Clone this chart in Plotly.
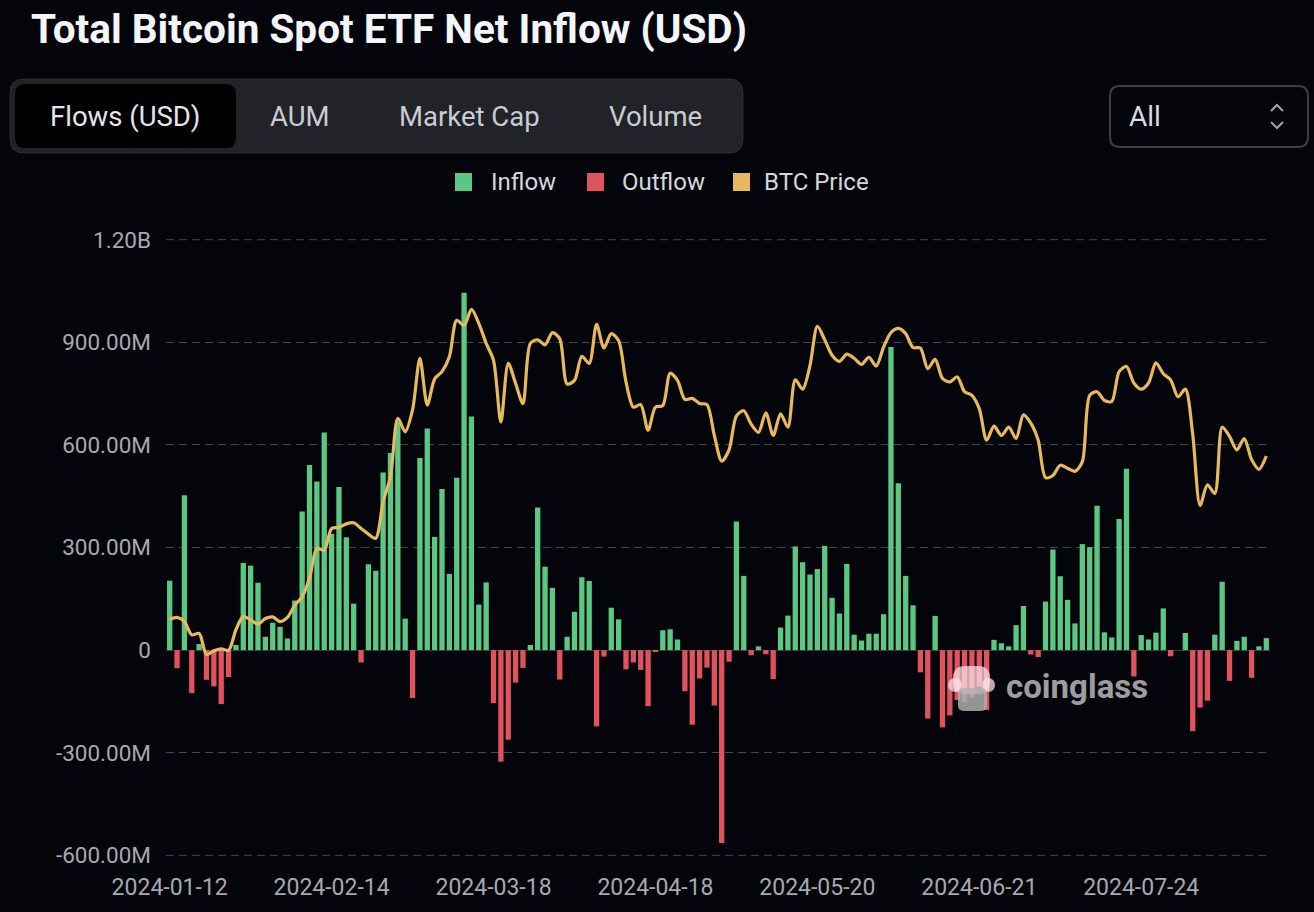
import pandas as pd
import plotly.graph_objects as go

# trading days shown on the category axis
HOLIDAYS = ["2024-01-15", "2024-02-19", "2024-03-29", "2024-05-27", "2024-06-19", "2024-07-04"]
dates = [d.strftime("%Y-%m-%d") for d in
         pd.bdate_range("2024-01-12", "2024-08-16", freq="C", holidays=HOLIDAYS)]

# daily net flow, millions of USD
net_flow = [
    203, -53, 453, -126, 18, -87, -106, -158, -79, 15,
    255, 247, 197, 39, 80, 68, 34, 145, 405, 541,
    493, 636, 340, 477, 330, 136, -36, 251, 232, 519,
    576, 667, 92, -140, 562, 648, 331, 471, 223, 504,
    1045, 683, 133, 198, -155, -326, -262, -95, -52, 15,
    417, 244, 182, -86, 39, 112, 213, 202, -223, -19,
    124, 90, -56, -36, -58, -164, -4, 58, 61, 31,
    -120, -218, -83, -51, -162, -564, -34, 376, 217, -15,
    11, -12, -85, 66, 101, 303, 257, 221, 237, 305,
    153, 107, 252, 45, 28, 48, 48, 105, 886, 488,
    217, 131, -65, -200, 100, -226, -191, -146, -152, -140,
    -106, -175, 30, 20, 11, 73, 129, -13, -20, 142,
    294, 216, 147, 78, 310, 301, 422, 52, 37, 383,
    530, -77, 44, 31, 51, 122, -18, 0, 50, -237,
    -168, -148, 45, 200, -90, 27, 39, -81, 11, 35,
]

# BTC price, thousands of USD
btc_price = [
    43.0, 43.2, 42.8, 41.5, 41.65, 39.6, 39.95, 40.15, 40.0, 42.0,
    43.3, 42.95, 42.55, 43.1, 43.25, 42.8, 43.2, 44.4, 45.2, 47.0,
    49.9, 49.75, 51.85, 51.95, 52.3, 52.4, 51.85, 51.3, 50.9, 54.45,
    56.9, 62.55, 61.25, 63.4, 68.4, 63.85, 66.4, 67.1, 68.55, 72.1,
    71.6, 73.15, 71.8, 69.85, 68.2, 62.2, 67.9, 65.95, 64.0, 69.85,
    70.2, 69.7, 70.9, 70.3, 65.9, 66.25, 68.6, 67.9, 71.7, 69.4,
    70.8, 70.1, 66.1, 63.65, 63.9, 61.4, 63.65, 63.8, 66.95, 66.25,
    64.4, 64.5, 64.0, 63.9, 60.9, 58.4, 59.5, 62.8, 63.3, 62.0,
    61.2, 63.1, 60.9, 63.0, 61.7, 66.3, 65.4, 67.7, 71.5, 70.2,
    68.7, 68.1, 68.8, 68.4, 67.8, 68.5, 67.65, 69.5, 70.9, 71.3,
    70.8, 69.45, 69.4, 67.4, 68.3, 66.45, 66.1, 66.6, 65.15, 64.8,
    63.5, 60.45, 61.8, 60.9, 61.7, 60.6, 62.9, 62.1, 60.45, 56.8,
    57.0, 58.0, 57.7, 57.4, 58.35, 64.8, 65.15, 64.3, 64.2, 67.1,
    67.6, 66.0, 65.4, 66.0, 67.95, 66.9, 66.3, 64.65, 65.4, 61.0,
    54.1, 56.1, 55.25, 61.7, 60.8, 59.5, 60.6, 58.55, 57.6, 58.9,
]
assert len(dates) == len(net_flow) == len(btc_price) == 150

y_ticks = [-600, -300, 0, 300, 600, 900, 1200]
y_labels = ["-600.00M", "-300.00M", "0", "300.00M", "600.00M", "900.00M", "1.20B"]
x_ticks = dates[::22]
tabs = ["Flows (USD)", "AUM", "Market Cap", "Volume"]
legend_items = ["Inflow", "Outflow", "BTC Price"]

GREEN, RED, GOLD = "#5cc683", "#e1525f", "#e6b95c"
BG = "#04050a"
GRID = "#44474d"
W, H = 1314, 912
L, R, T, B = 166, 1270, 239, 856   # plot area in page pixels


def paper(x, y):
    return (x - L) / (R - L), (B - y) / (B - T)


def rounded_rect(x0, y0, x1, y1, r):
    """SVG path for a rounded rectangle, given in page pixels."""
    pts = [("M", x0 + r, y0), ("L", x1 - r, y0), ("Q", x1, y0, x1, y0 + r),
           ("L", x1, y1 - r), ("Q", x1, y1, x1 - r, y1), ("L", x0 + r, y1),
           ("Q", x0, y1, x0, y1 - r), ("L", x0, y0 + r), ("Q", x0, y0, x0 + r, y0)]
    out = []
    for p in pts:
        cmd, coords = p[0], p[1:]
        xy = []
        for i in range(0, len(coords), 2):
            px, py = paper(coords[i], coords[i + 1])
            xy.append(f"{px:.5f},{py:.5f}")
        out.append(cmd + " ".join(xy))
    return " ".join(out) + " Z"


def polyline(points):
    s = []
    for i, (x, y) in enumerate(points):
        px, py = paper(x, y)
        s.append(("M" if i == 0 else "L") + f"{px:.5f},{py:.5f}")
    return " ".join(s)


def box(kind, x0, y0, x1, y1, fill):
    a, b = paper(x0, y1)
    c, d = paper(x1, y0)
    return dict(type=kind, xref="paper", yref="paper", x0=a, y0=b, x1=c, y1=d,
                fillcolor=fill, line=dict(width=0), layer="above")


inflow = [v if v > 0 else None for v in net_flow]
outflow = [v if v < 0 else None for v in net_flow]

fig = go.Figure()
fig.add_trace(go.Bar(x=dates, y=inflow, marker_color=GREEN, marker_line_width=0,
                     name="Inflow"))
fig.add_trace(go.Bar(x=dates, y=outflow, marker_color=RED, marker_line_width=0,
                     name="Outflow"))
fig.add_trace(go.Scatter(x=dates, y=btc_price, yaxis="y2", mode="lines",
                         line=dict(color=GOLD, width=3.2, shape="spline", smoothing=0.8),
                         name="BTC Price"))

shapes = [
    dict(type="path", xref="paper", yref="paper", path=rounded_rect(10, 79, 743, 153, 14),
         fillcolor="#212328", line=dict(color="#2b2e34", width=1), layer="above"),
    dict(type="path", xref="paper", yref="paper", path=rounded_rect(15, 84, 236, 148, 10),
         fillcolor="#000000", line=dict(width=0), layer="above"),
    dict(type="path", xref="paper", yref="paper", path=rounded_rect(1110, 86, 1308, 147, 10),
         fillcolor=BG, line=dict(color="#3b3e45", width=2), layer="above"),
    dict(type="path", xref="paper", yref="paper",
         path=polyline([(1271, 111), (1277, 105), (1283, 111)]),
         line=dict(color="#a3a6ad", width=2), layer="above"),
    dict(type="path", xref="paper", yref="paper",
         path=polyline([(1271, 122), (1277, 128), (1283, 122)]),
         line=dict(color="#a3a6ad", width=2), layer="above"),
]

# grid lines on the edges of the value range
for v in (y_ticks[0], y_ticks[-1]):
    shapes.append(dict(type="line", xref="paper", yref="y", x0=0, x1=1, y0=v, y1=v,
                       line=dict(color=GRID, width=1, dash="8px,5px"), layer="below"))

# legend swatches
for xs, col in zip([455, 587, 733], [GREEN, RED, GOLD]):
    shapes.append(box("rect", xs, 173, xs + 17, 191, col))

# rough coinglass mascot watermark
shapes.append(dict(type="path", xref="paper", yref="paper",
                   path=rounded_rect(953, 666, 990, 694, 12),
                   fillcolor="rgba(255,222,228,0.75)", line=dict(width=0), layer="above"))
shapes.append(box("circle", 948, 678, 962, 692, "rgba(255,222,228,0.75)"))
shapes.append(box("circle", 982, 678, 995, 692, "rgba(255,222,228,0.75)"))
shapes.append(dict(type="path", xref="paper", yref="paper",
                   path=rounded_rect(958, 688, 987, 711, 6),
                   fillcolor="rgba(175,175,175,0.85)", line=dict(width=0), layer="above"))

annotations = []


def label(text, x, y, size, color, anchor="center", weight="normal", family="Roboto"):
    px, py = paper(x, y)
    annotations.append(dict(text=text, x=px, y=py, xref="paper", yref="paper",
                            xanchor=anchor, yanchor="middle", showarrow=False,
                            font=dict(size=size, color=color, family=family, weight=weight)))


for name, cx, col in zip(tabs, [125, 300, 469, 655],
                         ["#e4e6ea", "#c9ccd3", "#c9ccd3", "#c9ccd3"]):
    label(name, cx, 117, 27.5, col)
label("All", 1127, 117, 28, "#d8dbe0", anchor="left")
for name, tx in zip(legend_items, [489, 620, 762]):
    label(name, tx, 182, 24, "#d4d7dd", anchor="left")
label("coinglass", 1004, 686, 33, "rgba(200,200,200,0.8)", anchor="left", weight="bold")

fig.update_layout(
    width=W, height=H, autosize=False,
    margin=dict(l=L, r=W - R, t=T, b=H - B, pad=0),
    paper_bgcolor=BG, plot_bgcolor=BG,
    font=dict(family="Roboto", color="#a6a9b0"),
    title=dict(text="<b>Total Bitcoin Spot ETF Net Inflow (USD)</b>",
               x=31 / W, y=1 - 29 / H, xanchor="left", yanchor="middle",
               font=dict(size=40.5, color="#f3f5f8", family="Roboto")),
    barmode="overlay", bargap=0.28,
    showlegend=False,
    xaxis=dict(type="category", range=[-0.5, len(dates) - 0.5], tickvals=x_ticks,
               ticktext=x_ticks, showgrid=False, zeroline=False, showline=False,
               ticks="", ticklabelstandoff=15, tickfont=dict(size=23, color="#a6a9b0")),
    yaxis=dict(range=[-602, 1202], tickvals=y_ticks, ticktext=y_labels,
               showgrid=True, gridcolor=GRID, gridwidth=1, griddash="8px,5px",
               zeroline=True, zerolinecolor="#34373c", zerolinewidth=1, ticks="",
               ticklabelstandoff=14, tickfont=dict(size=22.5, color="#a6a9b0")),
    yaxis2=dict(overlaying="y", range=[20, 80], visible=False),
    shapes=shapes,
    annotations=annotations,
)

fig.write_html("out.html", config={"displayModeBar": False},
               post_script="document.body.style.margin='0';"
                           "document.body.style.background='#04050a';")
